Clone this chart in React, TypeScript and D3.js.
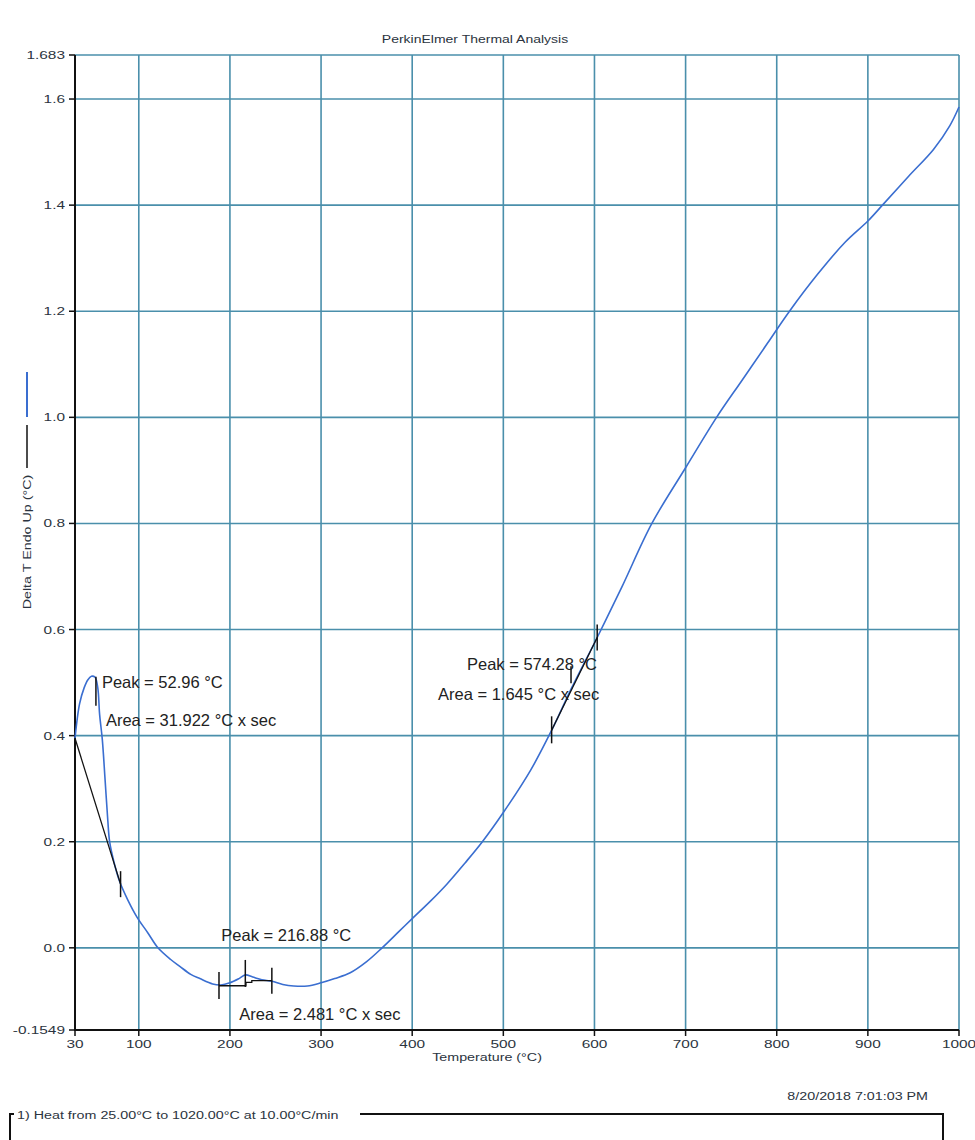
import React from 'react';
import * as d3 from 'd3';

// DTA trace
const temps = [30, 35, 40, 44, 48, 52, 55, 57, 60, 63, 66, 68, 73, 79, 88, 98, 110, 121, 135, 145, 157, 167, 181, 190, 200, 210, 217, 225, 235, 246, 258, 270, 285, 300, 315, 332, 350, 367, 385, 400, 420, 438, 458, 477, 500, 530, 553, 575, 603, 630, 663, 700, 734, 762, 790, 814, 845, 875, 900, 916, 945, 972, 990, 1000];
const deltaT = [0.395, 0.46, 0.49, 0.505, 0.512, 0.51, 0.49, 0.44, 0.392, 0.317, 0.24, 0.2, 0.16, 0.125, 0.09, 0.058, 0.028, 0.0, -0.022, -0.035, -0.05, -0.058, -0.068, -0.07, -0.066, -0.058, -0.051, -0.055, -0.06, -0.063, -0.069, -0.072, -0.072, -0.066, -0.058, -0.047, -0.026, 0.0, 0.03, 0.055, 0.088, 0.12, 0.16, 0.2, 0.255, 0.335, 0.41, 0.49, 0.585, 0.68, 0.8, 0.905, 1.0, 1.07, 1.14, 1.2, 1.27, 1.33, 1.37, 1.4, 1.455, 1.505, 1.55, 1.585];

const xTicks = [30, 100, 200, 300, 400, 500, 600, 700, 800, 900, 1000];
const xTickLabels = ['30', '100', '200', '300', '400', '500', '600', '700', '800', '900', '1000'];
const yTicks = [-0.1549, 0, 0.2, 0.4, 0.6, 0.8, 1.0, 1.2, 1.4, 1.6, 1.683];
const yTickLabels = ['-0.1549', '0.0', '0.2', '0.4', '0.6', '0.8', '1.0', '1.2', '1.4', '1.6', '1.683'];

// peak annotations: baseline start/end, peak position, labels
const peakTemps = [52.96, 216.88, 574.28];
const peakLabels = ['Peak = 52.96 °C', 'Peak = 216.88 °C', 'Peak = 574.28 °C'];
const areaLabels = ['Area = 31.922 °C x sec', 'Area = 2.481 °C x sec', 'Area = 1.645 °C x sec'];
const baselineStart = [[30, 0.395], [188, -0.072], [553, 0.41]];
const baselineEnd = [[80, 0.12], [246, -0.062], [603, 0.585]];

const W = 975;
const H = 1140;
const margin = { left: 75, right: 16, top: 55, bottom: 110 };

const gridColor = '#4a8fab';
const lineColor = '#3a6ed0';
const labelColor = '#2b3440';

function Wide(props: any) {
    const { x, y, anchor = 'start', sx = 1.4, size = 11, rotate = 0, children, fill = labelColor } = props;
    return (
        <text
            transform={`translate(${x},${y}) rotate(${rotate}) scale(${sx},1)`}
            textAnchor={anchor}
            fontFamily="Liberation Sans, Arial, sans-serif"
            fontSize={size}
            fill={fill}
        >
            {children}
        </text>
    );
}

export default function App() {
    const x = d3.scaleLinear().domain([30, 1000]).range([margin.left, W - margin.right]);
    const y = d3.scaleLinear().domain([-0.1549, 1.683]).range([H - margin.bottom, margin.top]);

    const data = temps.map((t, i) => [t, deltaT[i]] as [number, number]);
    const line = d3.line<[number, number]>()
        .x((d) => x(d[0]))
        .y((d) => y(d[1]))
        .curve(d3.curveCatmullRom.alpha(0.5));

    const valueAt = (t: number) => {
        const i = d3.bisectLeft(temps, t);
        if (i <= 0) return deltaT[0];
        const t0 = temps[i - 1], t1 = temps[i];
        return deltaT[i - 1] + (deltaT[i] - deltaT[i - 1]) * (t - t0) / (t1 - t0);
    };

    const x0 = x(30), x1 = x(1000), yTop = y(1.683), yBot = y(-0.1549);

    // text placement of each annotation (pixel offsets from the peak)
    const peakText = [[6, 7], [-24, -34], [-104, -19]];
    const areaText = [[10, 45], [-6, 45], [-133, 11]];
    const peakTick = [[-4, 25], [-15, 12], [-23, -6]];

    // baseline of the 216.88 peak has a small step
    const step2 = [[188, -0.0715], [217.6, -0.0715], [217.6, -0.065], [224, -0.065], [224, -0.062], [246, -0.062]];

    return (
        <svg width={W} height={H} style={{ position: 'absolute', left: 0, top: 0, background: '#fff' }}>
            <Wide x={475} y={43} anchor="middle" sx={1.4} size={10}>PerkinElmer Thermal Analysis</Wide>

            {/* grid */}
            {yTicks.filter((v) => v > -0.15).map((v) => (
                <line key={'gy' + v} x1={x0} x2={x1} y1={y(v)} y2={y(v)} stroke={gridColor} strokeWidth={1.6} />
            ))}
            {xTicks.filter((t) => t > 30).map((t) => (
                <line key={'gx' + t} x1={x(t)} x2={x(t)} y1={yTop} y2={yBot} stroke={gridColor} strokeWidth={1.6} />
            ))}

            {/* axes */}
            <line x1={x0} x2={x0} y1={yTop} y2={yBot + 1} stroke="#111" strokeWidth={2} />
            <line x1={x0} x2={x1} y1={yBot} y2={yBot} stroke="#111" strokeWidth={2} />
            {yTicks.map((v, i) => (
                <g key={'yt' + v}>
                    <line x1={x0 - 6} x2={x0} y1={y(v)} y2={y(v)} stroke="#111" strokeWidth={1.5} />
                    <Wide x={x0 - 10} y={y(v) + 4} anchor="end">{yTickLabels[i]}</Wide>
                </g>
            ))}
            {xTicks.map((t, i) => (
                <g key={'xt' + t}>
                    <line x1={x(t)} x2={x(t)} y1={yBot} y2={yBot + 6} stroke="#111" strokeWidth={1.5} />
                    <Wide x={x(t)} y={yBot + 18} anchor="middle">{xTickLabels[i]}</Wide>
                </g>
            ))}
            <Wide x={487} y={1061} anchor="middle" sx={1.3}>Temperature (°C)</Wide>

            {/* y axis title with its legend strokes */}
            <Wide x={31} y={542} anchor="middle" rotate={-90} sx={1.3}>Delta T Endo Up (°C)</Wide>
            <line x1={27} x2={27} y1={425} y2={468} stroke="#111" strokeWidth={1.5} />
            <line x1={27} x2={27} y1={372} y2={417} stroke={lineColor} strokeWidth={2} />

            {/* trace */}
            <path d={line(data) || ''} fill="none" stroke={lineColor} strokeWidth={1.6} />

            {/* annotations */}
            {peakTemps.map((pt, i) => {
                const px = x(pt);
                const py = y(valueAt(pt));
                const bs = baselineStart[i], be = baselineEnd[i];
                return (
                    <g key={'pk' + i}>
                        {i === 1
                            ? <path d={d3.line()(step2.map((d) => [x(d[0]), y(d[1])]) as [number, number][]) || ''} fill="none" stroke="#111" strokeWidth={1.3} />
                            : <line x1={x(bs[0])} y1={y(bs[1])} x2={x(be[0])} y2={y(be[1])} stroke="#111" strokeWidth={1.3} />}
                        {i > 0 && <line x1={x(bs[0])} x2={x(bs[0])} y1={y(bs[1]) - 14} y2={y(bs[1]) + 13} stroke="#111" strokeWidth={1.5} />}
                        <line x1={x(be[0])} x2={x(be[0])} y1={y(be[1]) - 13} y2={y(be[1]) + 13} stroke="#111" strokeWidth={1.5} />
                        <line x1={px} x2={px} y1={py + peakTick[i][0]} y2={py + peakTick[i][1]} stroke="#111" strokeWidth={1.5} />
                        <text x={px + peakText[i][0]} y={py + peakText[i][1]} fontFamily="Liberation Sans, Arial, sans-serif" fontSize={16.5} fill="#222">{peakLabels[i]}</text>
                        <text x={px + areaText[i][0]} y={py + areaText[i][1]} fontFamily="Liberation Sans, Arial, sans-serif" fontSize={16.5} fill="#222">{areaLabels[i]}</text>
                    </g>
                );
            })}

            {/* footer */}
            <Wide x={928} y={1100} anchor="end" sx={1.3}>8/20/2018 7:01:03 PM</Wide>
            <path d="M10,1140 V1114 H14" fill="none" stroke="#111" strokeWidth={2} />
            <path d="M360,1114 H943 V1140" fill="none" stroke="#111" strokeWidth={2} />
            <Wide x={17} y={1119} sx={1.3}>1)  Heat from 25.00°C to 1020.00°C at 10.00°C/min</Wide>
        </svg>
    );
}
